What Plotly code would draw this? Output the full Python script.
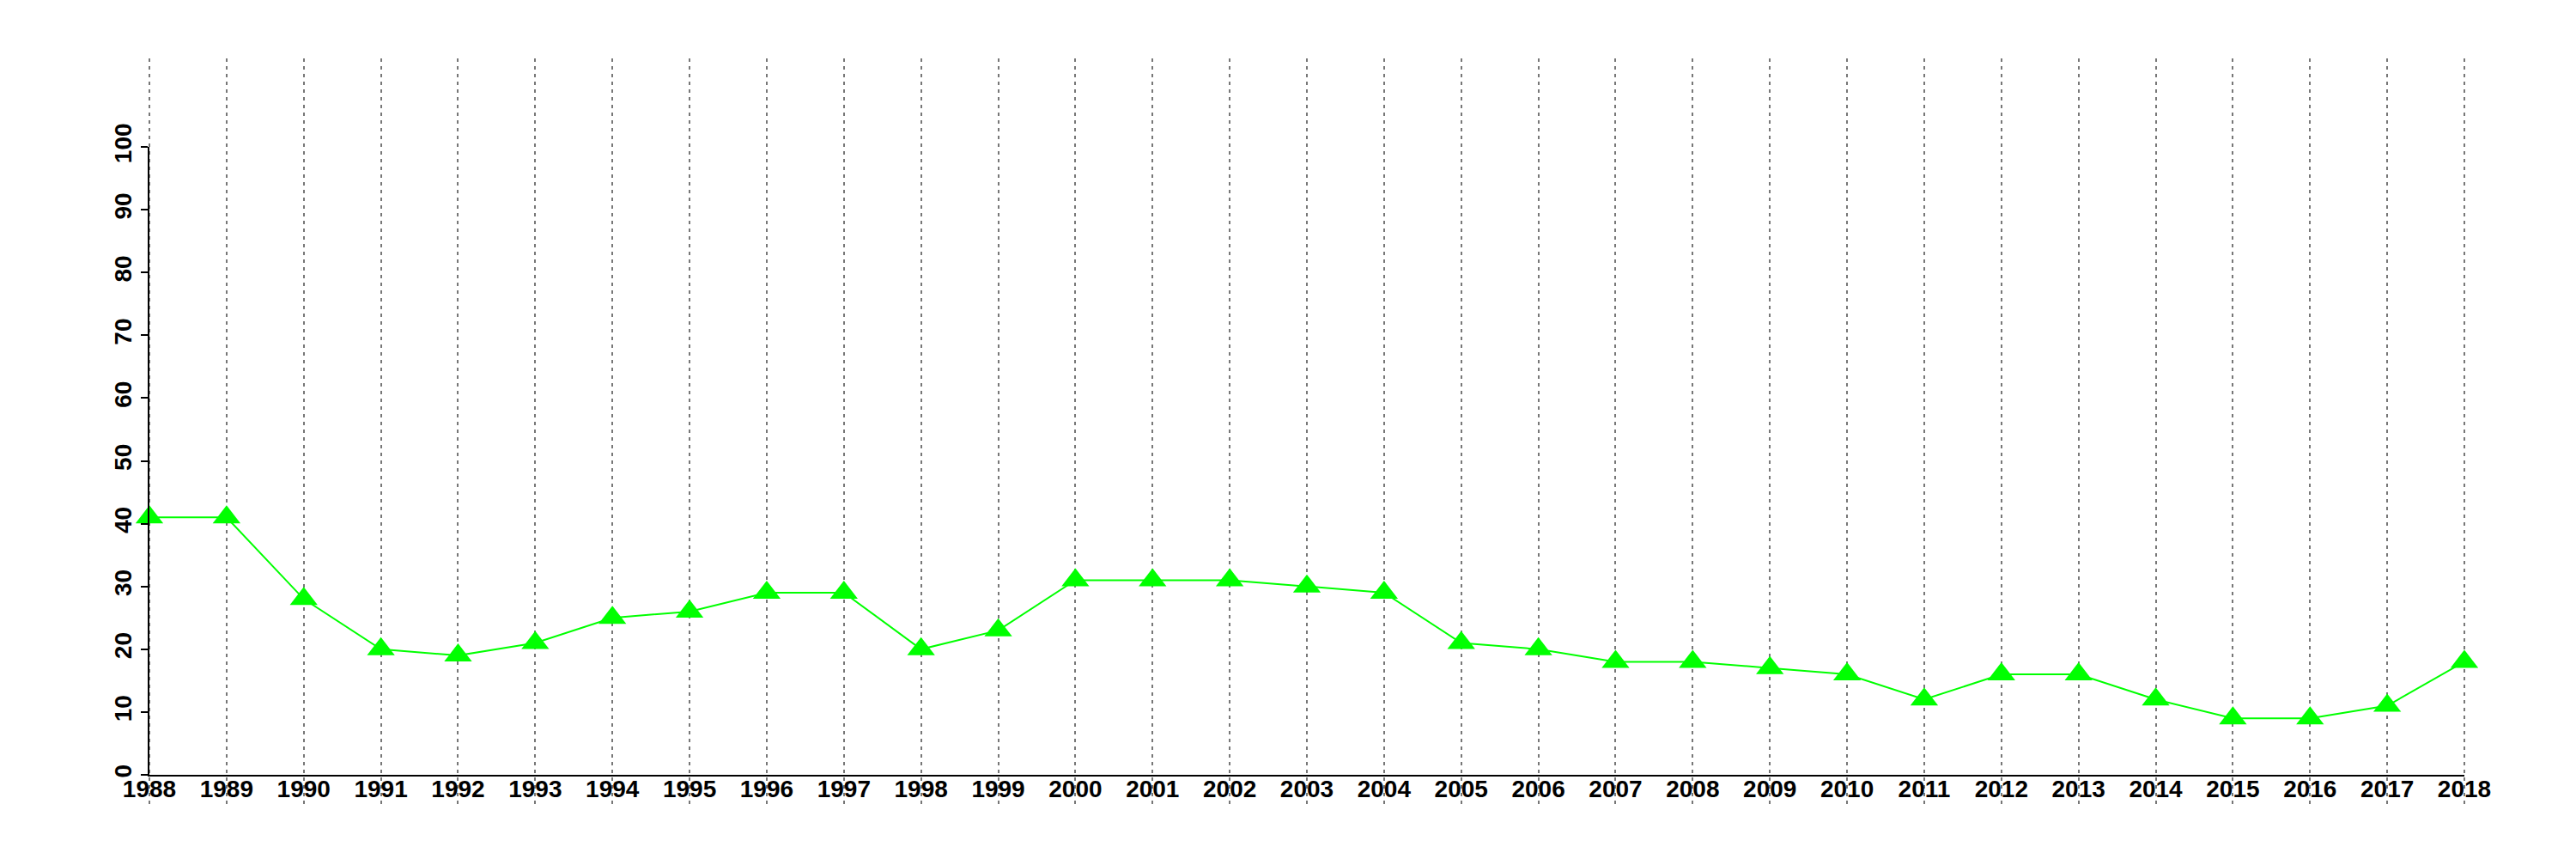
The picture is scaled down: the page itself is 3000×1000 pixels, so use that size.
import plotly.graph_objects as go

years = list(range(1988, 2019))
values = [41, 41, 28, 20, 19, 21, 25, 26, 29, 29, 20, 23, 31, 31, 31, 30, 29,
          21, 20, 18, 18, 17, 16, 12, 16, 16, 12, 9, 9, 11, 18]
y_ticks = [0, 10, 20, 30, 40, 50, 60, 70, 80, 90, 100]

W, H = 3000, 1000
# pixel layout of the reference
ml, mr, mt, mb = 60, 60, 60, 70          # grid subplot box
x_first_px, x_last_px = 166, 2862         # 1988 and 2018
y0_px, y100_px = 894, 163                 # 0 and 100
plot_w = W - ml - mr
plot_h = H - mt - mb
px_per_year = (x_last_px - x_first_px) / (years[-1] - years[0])
grid_range = [years[0] - (x_first_px - ml) / px_per_year,
              years[-1] + (W - mr - x_last_px) / px_per_year]
x2_domain = [(x_first_px - ml) / plot_w, (x_last_px - ml) / plot_w]
y2_domain = [(H - mb - y0_px) / plot_h, (H - mb - y100_px) / plot_h]

font = dict(family="Liberation Sans, Arial, Helvetica, sans-serif", size=28,
            color="black", weight="bold")

fig = go.Figure()
# invisible trace creating the subplot that carries the dotted year grid
fig.add_trace(go.Scatter(x=[years[0]], y=[0], xaxis="x", yaxis="y", mode="markers",
                         marker=dict(opacity=0), hoverinfo="skip", showlegend=False))
fig.add_trace(go.Scatter(
    x=years, y=values, xaxis="x2", yaxis="y2", mode="lines+markers",
    line=dict(color="#00FF00", width=2),
    marker=dict(symbol="triangle-up", size=28, color="#00FF00", line=dict(width=0)),
    cliponaxis=False, showlegend=False))

fig.update_layout(
    width=W, height=H,
    margin=dict(l=ml, r=mr, t=mt, b=mb),
    paper_bgcolor="white", plot_bgcolor="rgba(0,0,0,0)",
    font=font,
    showlegend=False,
    xaxis=dict(range=grid_range, domain=[0, 1], anchor="y", automargin=False,
               tickvals=years, showticklabels=False, ticks="",
               showline=False, zeroline=False,
               showgrid=True, gridcolor="#777777", gridwidth=2, griddash="4px,5px"),
    yaxis=dict(range=[0, 1], domain=[0, 1], anchor="x", visible=False,
               showgrid=False, zeroline=False, automargin=False),
    xaxis2=dict(range=[years[0], years[-1]], domain=x2_domain, anchor="y2", automargin=False,
                tickvals=years, ticktext=[str(y) for y in years],
                showline=True, linecolor="black", linewidth=2,
                ticks="", showgrid=False, zeroline=False, tickfont=font,
                ticklabelstandoff=-10),
    yaxis2=dict(range=[0, 100], domain=y2_domain, anchor="x2", automargin=False,
                tickvals=y_ticks, ticktext=[str(v) for v in y_ticks],
                tickangle=-90, showline=True, linecolor="black", linewidth=2,
                ticks="outside", ticklen=8, tickwidth=2, tickcolor="black",
                showgrid=False, zeroline=False, tickfont=font),
)

fig.write_html("out.html")
